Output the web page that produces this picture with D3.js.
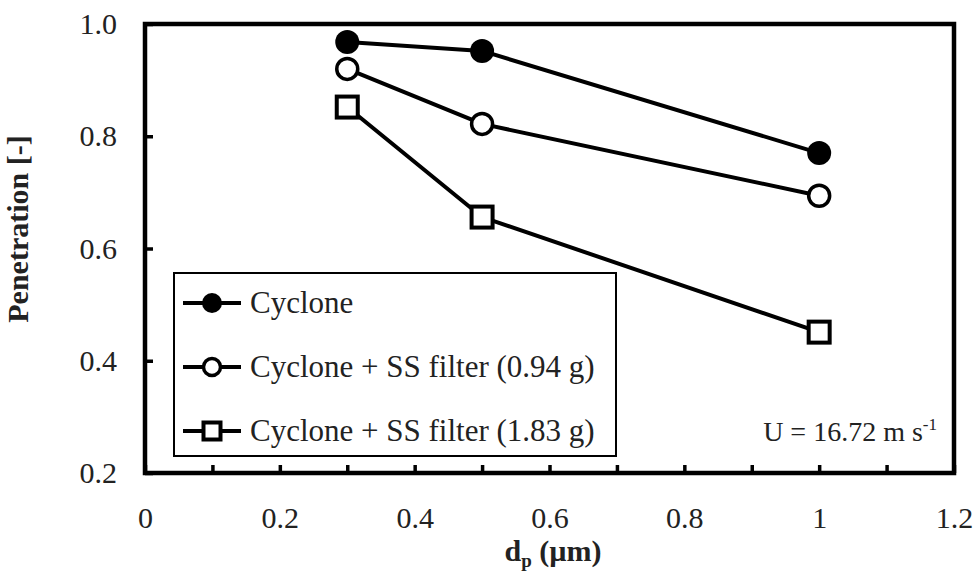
<!DOCTYPE html>
<html>
<head>
<meta charset="utf-8">
<script src="https://cdn.jsdelivr.net/npm/d3@7/dist/d3.min.js"></script>
<style>
  html, body { margin: 0; padding: 0; background: #fff; }
  svg { display: block; }
</style>
</head>
<body>
<svg id="chart" width="979" height="581"></svg>
<script>
// Particle diameter (µm)
const diameters = [0.3, 0.5, 1.0];

// Penetration for each configuration
const seriesNames = ["Cyclone", "Cyclone + SS filter (0.94 g)", "Cyclone + SS filter (1.83 g)"];
const cyclone = [0.968, 0.952, 0.770];
const filter094 = [0.920, 0.822, 0.694];
const filter183 = [0.852, 0.656, 0.451];
const markerKinds = ["filled", "circle", "square"];

const xTicks = [0, 0.2, 0.4, 0.6, 0.8, 1.0, 1.2];
const xMinorTicks = [0.1, 0.3, 0.5, 0.7, 0.9, 1.1];
const yTicks = [0.2, 0.4, 0.6, 0.8, 1.0];

const FONT = "'Liberation Serif', 'Times New Roman', 'DejaVu Serif', serif";
const FS = 30;

const svg = d3.select("#chart");
const plotL = 145, plotR = 954, plotT = 24, plotB = 473;

const x = d3.scaleLinear().domain([0, 1.2]).range([plotL, plotR]);
const y = d3.scaleLinear().domain([0.2, 1.0]).range([plotB, plotT]);

// x axis: inward ticks every 0.1, labels every 0.2
const xAxis = svg.append("g").attr("transform", `translate(0,${plotB})`)
  .call(d3.axisBottom(x).tickValues(xTicks.concat(xMinorTicks))
    .tickSizeInner(-8).tickSizeOuter(0).tickPadding(34)
    .tickFormat(d => xTicks.some(t => Math.abs(t - d) < 1e-9) ? d3.format("~g")(d) : ""));
xAxis.attr("font-family", FONT).attr("font-size", FS);
xAxis.select(".domain").remove();
xAxis.selectAll("line").attr("stroke", "#000").attr("stroke-width", 3.5);
xAxis.selectAll("text").attr("fill", "#222");

// y axis: inward ticks every 0.2
const yAxis = svg.append("g").attr("transform", `translate(${plotL},0)`)
  .call(d3.axisLeft(y).tickValues(yTicks)
    .tickSizeInner(-8).tickSizeOuter(0).tickPadding(28)
    .tickFormat(d3.format(".1f")));
yAxis.attr("font-family", FONT).attr("font-size", FS);
yAxis.select(".domain").remove();
yAxis.selectAll("line").attr("stroke", "#000").attr("stroke-width", 3.5);
yAxis.selectAll("text").attr("fill", "#222");

// plot frame
svg.append("rect")
  .attr("x", plotL).attr("y", plotT)
  .attr("width", plotR - plotL).attr("height", plotB - plotT)
  .attr("fill", "none").attr("stroke", "#000").attr("stroke-width", 4.5);

const allSeries = [cyclone, filter094, filter183].map((vals, i) => ({
  name: seriesNames[i], kind: markerKinds[i],
  points: diameters.map((d, j) => ({ d, v: vals[j] }))
}));

function drawMarker(g, kind, cx, cy, s) {
  if (kind === "filled") {
    g.append("circle").attr("cx", cx).attr("cy", cy).attr("r", s)
      .attr("fill", "#000");
  } else if (kind === "circle") {
    g.append("circle").attr("cx", cx).attr("cy", cy).attr("r", s - 1.5)
      .attr("fill", "#fff").attr("stroke", "#000").attr("stroke-width", 3.5);
  } else {
    const h = s - 1.5;
    g.append("rect").attr("x", cx - h).attr("y", cy - h)
      .attr("width", 2 * h).attr("height", 2 * h)
      .attr("fill", "#fff").attr("stroke", "#000").attr("stroke-width", 4);
  }
}

const line = d3.line().x(p => x(p.d)).y(p => y(p.v));

allSeries.forEach(s => {
  const g = svg.append("g");
  g.append("path").attr("d", line(s.points))
    .attr("fill", "none").attr("stroke", "#000").attr("stroke-width", 4)
    .attr("stroke-linejoin", "round");
  s.points.forEach(p => drawMarker(g, s.kind, x(p.d), y(p.v), 12));
});

// legend
const legend = svg.append("g");
legend.append("rect").attr("x", 174).attr("y", 273).attr("width", 442).attr("height", 183)
  .attr("fill", "#fff").attr("stroke", "#000").attr("stroke-width", 2);
allSeries.forEach((s, i) => {
  const cy = 303 + i * 64;
  legend.append("line").attr("x1", 183).attr("x2", 241).attr("y1", cy).attr("y2", cy)
    .attr("stroke", "#000").attr("stroke-width", 4);
  drawMarker(legend, s.kind, 212, cy, 10);
  legend.append("text").attr("x", 250).attr("y", cy).attr("dy", "0.33em")
    .attr("font-family", FONT).attr("font-size", 31).attr("fill", "#222").text(s.name);
});

// velocity annotation
const ann = svg.append("text").attr("x", 937).attr("y", 441).attr("text-anchor", "end")
  .attr("font-family", FONT).attr("font-size", 28).attr("fill", "#222");
ann.append("tspan").text("U = 16.72 m s");
ann.append("tspan").attr("font-size", 17).attr("dy", -11).text("-1");

// axis titles
svg.append("text").attr("transform", "translate(28,229) rotate(-90)")
  .attr("text-anchor", "middle").attr("font-family", FONT).attr("font-size", FS)
  .attr("font-weight", "bold").attr("fill", "#222")
  .text("Penetration [-]");

const xt = svg.append("text").attr("x", 553).attr("y", 561).attr("text-anchor", "middle")
  .attr("font-family", FONT).attr("font-size", FS).attr("font-weight", "bold").attr("fill", "#222");
xt.append("tspan").text("d");
xt.append("tspan").attr("font-size", 19).attr("dy", 6).text("p");
xt.append("tspan").attr("dy", -6).text(" (µm)");
</script>
</body>
</html>
